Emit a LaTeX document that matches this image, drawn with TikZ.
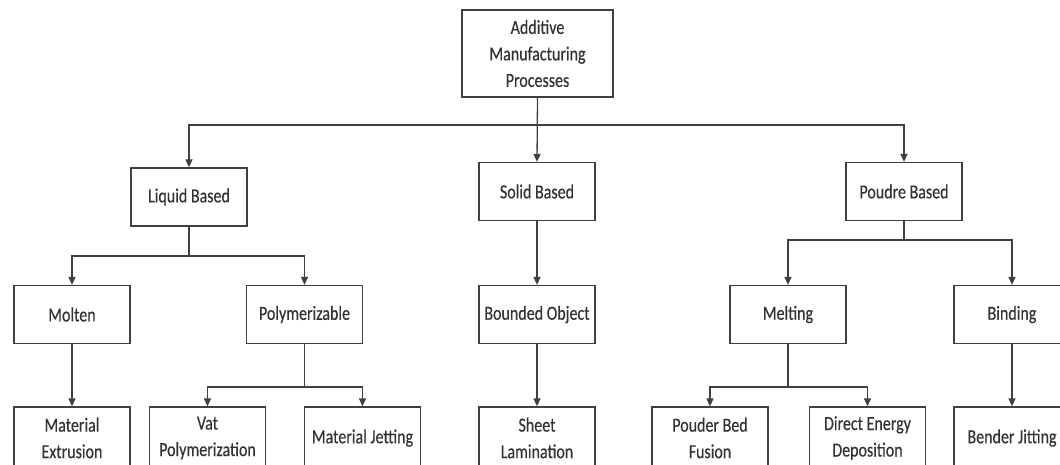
\documentclass[tikz,border=0pt]{standalone}
\usepackage{fontspec}
\setmainfont{Carlito}[FakeStretch=0.8,FakeBold=0.4]
\usepackage{tikz}
\usetikzlibrary{calc,arrows.meta}
\definecolor{lineclr}{HTML}{404040}
\definecolor{textclr}{HTML}{333333}
\begin{document}
\begin{tikzpicture}[x=1pt,y=-1pt,
		box/.style={draw=lineclr,line width=1.3pt,minimum width=116pt,minimum height=58pt,inner sep=2pt,align=center,text=textclr,font=\fontsize{20}{26.5}\selectfont},
		arr/.style={draw=lineclr,line width=1.3pt,-{Triangle[length=8pt,width=7pt]}},
		ln/.style={draw=lineclr,line width=1.3pt}]
				\useasboundingbox (0,0) rectangle (1060,465);
				%top
				\node[box,minimum width=151pt,minimum height=87pt] (amp) at (537.5,53.5) {Additive\\Manufacturing\\Processes};
				%second level
				\node[box] (liquid) at (189,197) {Liquid Based};
				\node[box] (solid) at (537,191.5) {Solid Based};
				\node[box] (poudre) at (904,191.5) {Poudre Based};
				%third level
				\node[box] (molten) at (72,314.5) {Molten};
				\node[box] (poly) at (304.5,314.5) {Polymerizable};
				\node[box] (bounded) at (537,314.5) {Bounded Object};
				\node[box] (melting) at (788,314.5) {Melting};
				\node[box] (binding) at (1012,314.5) {Binding};
				%bottom level
				\node[box,minimum height=62pt] (extrusion) at (72,438) {Material\\Extrusion};
				\node[box,minimum height=62pt] (vat) at (207.5,438) {Vat\\Polymerization};
				\node[box,minimum height=62pt] (jetting) at (362.5,438) {Material Jetting};
				\node[box,minimum height=62pt] (sheet) at (537,438) {Sheet\\Lamination};
				\node[box,minimum height=62pt] (pbf) at (710,438) {Pouder Bed\\Fusion};
				\node[box,minimum height=62pt] (ded) at (867.5,438) {Direct Energy\\Deposition};
				\node[box,minimum height=62pt] (bender) at (1012,438) {Bender Jitting};
				
				%junctions
				\coordinate (jtop) at (537.5,125);
				\coordinate (jliq) at (189,256);
				\coordinate (jpoly) at (304.5,387);
				\coordinate (jpou) at (904,240);
				\coordinate (jmelt) at (788,387);
				
				\draw[arr] (amp.south) -- (solid.north);
				\draw[arr] (jtop) -| (liquid.north);
				\draw[arr] (jtop) -| (poudre.north);
				
				\draw[ln] (liquid.south) -- (jliq);
				\draw[arr] (jliq) -| (molten.north);
				\draw[arr] (jliq) -| (poly.north);
				
				\draw[ln] (poly.south) -- (jpoly);
				\draw[arr] (jpoly) -| (vat.north);
				\draw[arr] (jpoly) -| (jetting.north);
				
				\draw[ln] (poudre.south) -- (jpou);
				\draw[arr] (jpou) -| (melting.north);
				\draw[arr] (jpou) -| (binding.north);
				
				\draw[ln] (melting.south) -- (jmelt);
				\draw[arr] (jmelt) -| (pbf.north);
				\draw[arr] (jmelt) -| (ded.north);
				
				\draw[arr] (molten.south) -- (extrusion.north);
				\draw[arr] (solid.south) -- (bounded.north);
				\draw[arr] (bounded.south) -- (sheet.north);
				\draw[arr] (binding.south) -- (bender.north);
				
			\end{tikzpicture}
\end{document}
